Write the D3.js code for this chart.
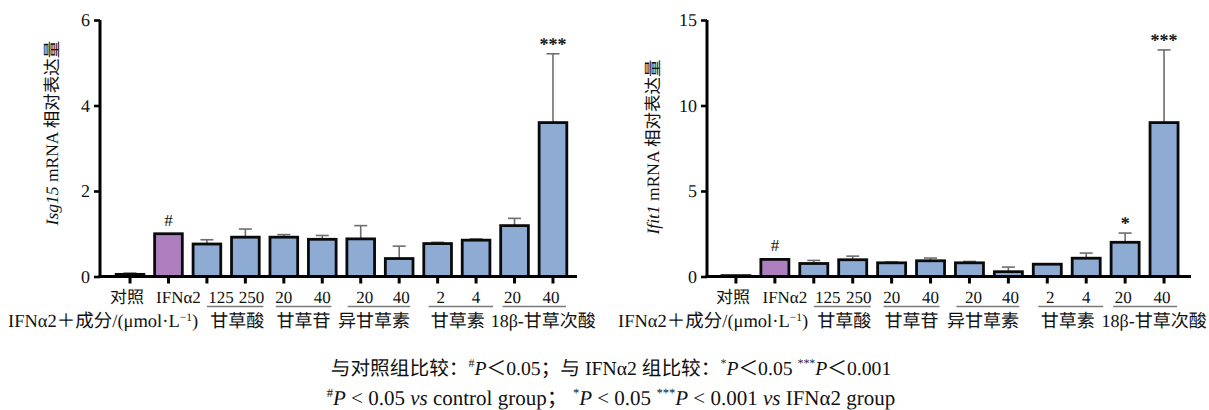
<!DOCTYPE html>
<html>
<head>
<meta charset="utf-8">
<script src="https://cdn.jsdelivr.net/npm/d3@7"></script>
<style>
  html, body { margin: 0; padding: 0; background: #fff; }
  svg { display: block; }
  text { font-family: "Liberation Serif", "Noto Sans CJK SC", serif; fill: #111; text-rendering: geometricPrecision; }
</style>
</head>
<body>
<svg id="fig" width="1209" height="410"></svg>
<script>
// Treatment groups along the x axis (dose in μmol/L for the compound groups)
const categories = ["对照", "IFNα2", "125", "250", "20", "40", "20", "40", "2", "4", "20", "40"];
const compoundGroups = ["甘草酸", "甘草苷", "异甘草素", "甘草素", "18β-甘草次酸"];
// bar indices that each compound group covers
const groupMembers = [[2, 3], [4, 5], [6, 7], [8, 9], [10, 11]];

// Isg15 relative expression (mean, SD)
const isg15Mean = [0.05, 1.00, 0.76, 0.92, 0.92, 0.87, 0.88, 0.42, 0.77, 0.85, 1.19, 3.60];
const isg15Err  = [0.03, 0.00, 0.10, 0.19, 0.06, 0.09, 0.31, 0.29, 0.03, 0.03, 0.17, 1.61];
const isg15Sig  = ["", "#", "", "", "", "", "", "", "", "", "", "***"];
const isg15Ticks = [0, 2, 4, 6];

// Ifit1 relative expression (mean, SD)
const ifit1Mean = [0.05, 1.00, 0.76, 0.98, 0.80, 0.92, 0.80, 0.28, 0.72, 1.07, 2.00, 9.00];
const ifit1Err  = [0.00, 0.00, 0.18, 0.21, 0.05, 0.16, 0.08, 0.27, 0.02, 0.30, 0.54, 4.25];
const ifit1Sig  = ["", "#", "", "", "", "", "", "", "", "", "*", "***"];
const ifit1Ticks = [0, 5, 10, 15];

const svg = d3.select("#fig");

// small horizontal nudges of the dose labels and group labels
const doseNudge = [-3, 10, 14, 6, 0, 0, 4, 2, 3, 0, -2, -2];
const lineStartPad = [0, -8, -13, -9, -12];
const lineEndPad = [18, 9, 11, 17, 13];
const groupNudge = [2, 0, -5, -3, 9];

function drawPanel(opt) {
  const g = svg.append("g");
  const y = d3.scaleLinear().domain([0, opt.ticks[opt.ticks.length - 1]]).range([276.5, 20]);
  const x = d3.scaleBand().domain(d3.range(categories.length))
    .range(opt.xRange).paddingInner(0.28).paddingOuter(0.14);
  const cx = i => x(i) + x.bandwidth() / 2;

  // error bars (drawn under the bars)
  const eb = g.append("g").attr("stroke", "#6e6e6e").attr("stroke-width", 1.6).attr("fill", "none");
  opt.mean.forEach((m, i) => {
    const e = opt.err[i];
    if (e <= 0) return;
    eb.append("line").attr("x1", cx(i)).attr("x2", cx(i)).attr("y1", y(m)).attr("y2", y(m + e));
    eb.append("line").attr("x1", cx(i) - 6.5).attr("x2", cx(i) + 6.5).attr("y1", y(m + e)).attr("y2", y(m + e));
  });

  // bars
  g.append("g").selectAll("rect").data(opt.mean).join("rect")
    .attr("x", (d, i) => x(i))
    .attr("width", x.bandwidth())
    .attr("y", d => y(d))
    .attr("height", d => y(0) - y(d))
    .attr("fill", (d, i) => i === 1 ? "#ae7fbf" : "#8eabd4")
    .attr("stroke", "#0a0a0a")
    .attr("stroke-width", 2.8);

  // significance marks
  g.append("g").selectAll("text").data(opt.sig).join("text")
    .attr("x", (d, i) => cx(i))
    .attr("y", (d, i) => {
      const top = y(opt.mean[i] + opt.err[i]);
      return d === "#" ? top - 8 : top - 4;
    })
    .attr("text-anchor", "middle")
    .attr("font-size", d => d === "#" ? 17 : 18)
    .attr("font-weight", d => d === "#" ? "normal" : "bold")
    .text(d => d);

  // y axis
  const yAxis = d3.axisLeft(y).tickValues(opt.ticks).tickFormat(d3.format("d"))
    .tickSize(6).tickSizeOuter(0).tickPadding(4);
  const ya = g.append("g").attr("transform", `translate(${opt.axisX},0)`).call(yAxis);
  ya.select(".domain").attr("stroke", "#000").attr("stroke-width", 3)
    .attr("d", `M0,${y(opt.ticks[opt.ticks.length - 1])}V${y(0) + 1.5}`);
  ya.selectAll(".tick line").attr("stroke", "#000").attr("stroke-width", 2.6);
  ya.selectAll(".tick text").attr("font-size", 18).attr("fill", "#111")
    .style("font-family", "'Liberation Serif', serif");

  // x axis baseline and tick marks
  g.append("line").attr("x1", opt.axisX - 1.5).attr("x2", opt.axisEnd)
    .attr("y1", y(0)).attr("y2", y(0)).attr("stroke", "#000").attr("stroke-width", 3);
  g.append("g").selectAll("line").data(categories).join("line")
    .attr("x1", (d, i) => cx(i)).attr("x2", (d, i) => cx(i))
    .attr("y1", y(0)).attr("y2", y(0) + 7)
    .attr("stroke", "#000").attr("stroke-width", 3);

  // dose / group labels row
  g.append("g").selectAll("text").data(categories).join("text")
    .attr("x", (d, i) => cx(i) + doseNudge[i])
    .attr("y", 303)
    .attr("text-anchor", "middle")
    .attr("font-size", 17)
    .text(d => d);

  // underlines and compound names
  groupMembers.forEach((mem, k) => {
    const x1 = cx(mem[0]) + lineStartPad[k];
    const x2 = cx(mem[1]) + lineEndPad[k];
    g.append("line").attr("x1", x1).attr("x2", x2).attr("y1", 306.5).attr("y2", 306.5)
      .attr("stroke", "#7a7a7a").attr("stroke-width", 1.5);
    g.append("text").attr("x", (x1 + x2) / 2 + groupNudge[k]).attr("y", 326.5)
      .attr("text-anchor", "middle").attr("font-size", 18).text(compoundGroups[k]);
  });

  // treatment caption at the left of the second row
  const cap = g.append("text").attr("x", opt.captionX).attr("y", 326.5).attr("font-size", 18.5);
  cap.append("tspan").text("IFNα2＋成分/(μmol·L");
  cap.append("tspan").attr("dy", -6).attr("font-size", 11.5).text("−1");
  cap.append("tspan").attr("dy", 6).text(")");

  // y title
  const yt = g.append("text")
    .attr("transform", `translate(${opt.titleX},${opt.titleY}) rotate(-90)`)
    .attr("text-anchor", "middle").attr("font-size", 17.5);
  yt.append("tspan").attr("font-style", "italic").text(opt.gene);
  yt.append("tspan").text(" mRNA 相对表达量");
}

drawPanel({
  mean: isg15Mean, err: isg15Err, sig: isg15Sig, ticks: isg15Ticks,
  xRange: [110.8, 572.2], axisX: 100, axisEnd: 577,
  captionX: 8, titleX: 58, titleY: 133, gene: "Isg15"
});
drawPanel({
  mean: ifit1Mean, err: ifit1Err, sig: ifit1Sig, ticks: ifit1Ticks,
  xRange: [716.5, 1183.5], axisX: 707, axisEnd: 1191,
  captionX: 618, titleX: 659, titleY: 147, gene: "Ifit1"
});

// footnotes
function note(yPos, size, parts) {
  const t = svg.append("text").attr("x", 611).attr("y", yPos)
    .attr("text-anchor", "middle").attr("font-size", size);
  let raised = false;
  parts.forEach(p => {
    const s = t.append("tspan").text(p.t);
    if (p.sup) { s.attr("font-size", size * 0.6).attr("dy", -8); raised = true; }
    else if (raised) { s.attr("dy", 8); raised = false; }
    if (p.it) s.attr("font-style", "italic");
  });
}
note(375, 19.7, [
  { t: "与对照组比较：" }, { t: "#", sup: true }, { t: "P", it: true },
  { t: "＜0.05；与 IFNα2 组比较：" }, { t: "*", sup: true }, { t: "P", it: true },
  { t: "＜0.05 " }, { t: "***", sup: true }, { t: "P", it: true }, { t: "＜0.001" }
]);
note(405, 21, [
  { t: "#", sup: true }, { t: "P", it: true }, { t: " < 0.05 " }, { t: "vs", it: true },
  { t: " control group； " }, { t: "*", sup: true }, { t: "P", it: true }, { t: " < 0.05 " },
  { t: "***", sup: true }, { t: "P", it: true }, { t: " < 0.001 " }, { t: "vs", it: true },
  { t: " IFNα2 group" }
]);
</script>
</body>
</html>
